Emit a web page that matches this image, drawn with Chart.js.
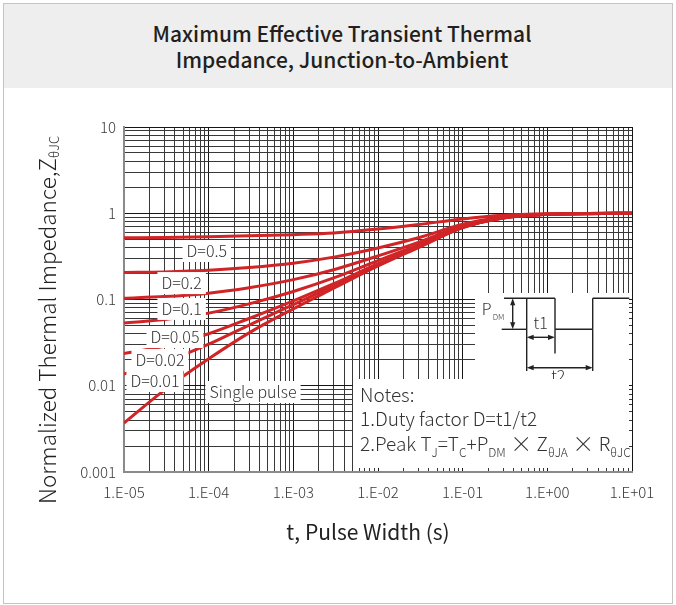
<!DOCTYPE html>
<html>
<head>
<meta charset="utf-8">
<script src="https://cdn.jsdelivr.net/npm/chart.js@4.4.1/dist/chart.umd.min.js"></script>
<style>
html,body{margin:0;padding:0;background:#fff;}
#frame{position:absolute;left:3px;top:3px;width:668px;height:599px;border:1px solid #c4c4c4;box-sizing:content-box;}
#title{position:absolute;left:0;top:0;width:668px;height:84px;background:#eeeeee;font-family:"Noto Sans CJK SC","Noto Sans",sans-serif;font-weight:500;font-size:21px;line-height:26px;color:#231f20;text-align:center;display:flex;align-items:center;justify-content:center;}
#title div{position:relative;left:4px;}
#wrap{position:absolute;left:0;top:88px;width:676px;height:517px;}
</style>
</head>
<body>
<div id="frame"><div id="title"><div>Maximum Effective Transient Thermal<br>Impedance, Junction-to-Ambient</div></div></div>
<div id="wrap"><canvas id="c"></canvas></div>
<script>
// ---- data ----
const tValues = [1e-5, 3e-5, 1e-4, 3e-4, 1e-3, 3e-3, 1e-2, 3e-2, 1e-1, 3e-1, 1, 3, 10];
const zD05    = [0.52, 0.525, 0.535, 0.547, 0.565, 0.59, 0.655, 0.74, 0.86, 0.945, 0.985, 0.995, 1.0];
const zD02    = [0.206, 0.209, 0.218, 0.235, 0.264, 0.31, 0.396, 0.52, 0.744, 0.904, 0.976, 0.992, 1.0];
const zD01    = [0.1033, 0.108, 0.1185, 0.137, 0.170, 0.2215, 0.320, 0.46, 0.712, 0.892, 0.973, 0.991, 1.0];
const zD005   = [0.0535, 0.0585, 0.0695, 0.089, 0.124, 0.178, 0.283, 0.43, 0.696, 0.886, 0.972, 0.991, 1.0];
const zD002   = [0.0236, 0.0287, 0.0401, 0.0602, 0.0964, 0.1523, 0.260, 0.412, 0.686, 0.882, 0.971, 0.990, 1.0];
const zD001   = [0.0137, 0.0188, 0.0303, 0.0506, 0.0872, 0.1437, 0.2526, 0.406, 0.683, 0.881, 0.970, 0.990, 1.0];
const zSingle = [0.0037, 0.0089, 0.0205, 0.041, 0.078, 0.135, 0.245, 0.40, 0.68, 0.88, 0.97, 0.99, 1.0];

const seriesNames = ['D=0.5', 'D=0.2', 'D=0.1', 'D=0.05', 'D=0.02', 'D=0.01', 'Single pulse'];
const seriesValues = [zD05, zD02, zD01, zD005, zD002, zD001, zSingle];
// label anchor positions (data units: t, Z)
const labelT = [9.5e-5, 4.8e-5, 4.8e-5, 4.0e-5, 2.66e-5, 2.32e-5, 3.34e-4];
const labelZ = [0.365, 0.155, 0.0777, 0.0367, 0.0199, 0.01135, 0.00846];

const xTickLabels = ['1.E-05', '1.E-04', '1.E-03', '1.E-02', '1.E-01', '1.E+00', '1.E+01'];
const yTickLabels = ['0.001', '0.01', '0.1', '1', '10'];
const xMin = 1e-5, xMax = 10, yMin = 1e-3, yMax = 10;

const FONT = '"Noto Sans CJK SC","Noto Sans",sans-serif';
Chart.defaults.font.family = FONT;

function logTicks(min, max) {
  const out = [];
  const e0 = Math.round(Math.log10(min)), e1 = Math.round(Math.log10(max));
  for (let e = e0; e <= e1; e++) {
    for (let m = 1; m <= 9; m++) {
      if (e === e1 && m > 1) break;
      out.push({ value: Number(m + 'e' + e), major: m === 1 });
    }
  }
  return out;
}
function labelFor(v, min, labels) {
  const lg = Math.log10(v), r = Math.round(lg);
  if (Math.abs(lg - r) > 1e-9) return '';
  return labels[r - Math.round(Math.log10(min))];
}

const RED = '#d02427';
const datasets = seriesNames.map((n, i) => ({
  label: n,
  data: tValues.map((t, k) => ({ x: t, y: seriesValues[i][k] })),
  borderColor: RED,
  borderWidth: 3,
  pointRadius: 0,
  fill: false,
  cubicInterpolationMode: 'monotone'
}));

// parts: [text, kind] kind 0 = normal, 1 = subscript, 2 = large symbol
function drawParts(ctx, parts, x, y, fonts, drops) {
  let cx = x;
  parts.forEach(([t, k]) => {
    ctx.font = fonts[k];
    ctx.fillText(t, cx, y + drops[k]);
    cx += ctx.measureText(t).width;
  });
  return cx;
}
function measureParts(ctx, parts, fonts) {
  let w = 0;
  parts.forEach(([t, k]) => { ctx.font = fonts[k]; w += ctx.measureText(t).width; });
  return w;
}
function arrowHead(ctx, x, y, dir) {
  const L = 7, W = 2.6;
  ctx.beginPath();
  if (dir === 'up') { ctx.moveTo(x, y); ctx.lineTo(x - W, y + L); ctx.lineTo(x + W, y + L); }
  if (dir === 'down') { ctx.moveTo(x, y); ctx.lineTo(x - W, y - L); ctx.lineTo(x + W, y - L); }
  if (dir === 'left') { ctx.moveTo(x, y); ctx.lineTo(x + L, y - W); ctx.lineTo(x + L, y + W); }
  if (dir === 'right') { ctx.moveTo(x, y); ctx.lineTo(x - L, y - W); ctx.lineTo(x - L, y + W); }
  ctx.closePath(); ctx.fill();
}

const annot = {
  id: 'annot',
  afterDatasetsDraw(chart) {
    const { ctx, chartArea: ca, scales } = chart;
    const xs = scales.x, ys = scales.y;
    ctx.save();
    // curve labels
    ctx.textAlign = 'center';
    ctx.textBaseline = 'middle';
    ctx.font = '300 16px ' + FONT;
    seriesNames.forEach((txt, i) => {
      const px = xs.getPixelForValue(labelT[i]), py = ys.getPixelForValue(labelZ[i]);
      const w = ctx.measureText(txt).width;
      ctx.fillStyle = '#fff';
      ctx.fillRect(px - w / 2 - 4, py - 11, w + 8, 22);
      ctx.fillStyle = '#333';
      ctx.fillText(txt, px, py);
    });

    const L = ca.left, T = ca.top;
    // pulse diagram box
    ctx.fillStyle = '#fff';
    ctx.fillRect(L + 351, T + 166, 154, 86);
    ctx.strokeStyle = '#222'; ctx.fillStyle = '#222'; ctx.lineWidth = 1.4;
    const P = (x, y) => [L + x - 124, T + y - 127];
    const seg = (a, b) => { ctx.beginPath(); ctx.moveTo(...P(...a)); ctx.lineTo(...P(...b)); ctx.stroke(); };
    const hi = 298.3, lo = 329.3;
    seg([504, hi], [555, hi]);
    seg([501.7, lo], [526.7, lo]);
    seg([526.7, lo], [526.7, hi]);
    seg([555, hi], [555, lo]);
    seg([555, lo], [592.7, lo]);
    seg([592.7, lo], [592.7, hi]);
    seg([592.7, hi], [629.3, hi]);
    seg([512.7, hi + 6], [512.7, lo - 6]);
    arrowHead(ctx, ...P(512.7, hi), 'up');
    arrowHead(ctx, ...P(512.7, lo), 'down');
    seg([526.7, lo], [526.7, 371]);
    seg([555, lo], [555, 353.5]);
    seg([592.7, lo], [592.7, 371]);
    seg([532, 337.3], [550, 337.3]);
    arrowHead(ctx, ...P(526.7, 337.3), 'left');
    arrowHead(ctx, ...P(555, 337.3), 'right');
    seg([532, 367.7], [587, 367.7]);
    arrowHead(ctx, ...P(526.7, 367.7), 'left');
    arrowHead(ctx, ...P(592.7, 367.7), 'right');
    ctx.fillStyle = '#333';
    ctx.textAlign = 'center'; ctx.textBaseline = 'middle';
    ctx.font = '300 16px ' + FONT;
    ctx.fillText('t1', ...P(540.7, 322.5));
    ctx.fillText('t2', ...P(558.3, 376));
    ctx.fillText('P', ...P(486.7, 309.3));
    ctx.font = '300 8px ' + FONT;
    ctx.fillText('DM', ...P(498.5, 316.5));

    // notes box
    ctx.fillStyle = '#fff';
    ctx.fillRect(L + 229, T + 252, 276, 89);
    ctx.fillStyle = '#333';
    ctx.textAlign = 'left'; ctx.textBaseline = 'middle';
    const fonts = ['300 19px ' + FONT, '300 12px ' + FONT, '300 22px ' + FONT];
    const drops = [0, 8, 0];
    ctx.font = fonts[0];
    ctx.fillText('Notes:', L + 236, T + 268);
    ctx.fillText('1.Duty factor D=t1/t2', L + 236, T + 292);
    drawParts(ctx, [['2.Peak T', 0], ['J', 1], ['=T', 0], ['C', 1], ['+P', 0], ['DM', 1],
                    ['\u2009\u00d7\u2009', 2], ['Z', 0], ['\u03b8JA', 1], ['\u2009\u00d7\u2009', 2], ['R', 0], ['\u03b8JC', 1]],
              L + 236, T + 317, fonts, drops);
    ctx.restore();
  },
  afterDraw(chart) {
    const { ctx } = chart;
    ctx.save();
    ctx.fillStyle = '#222';
    ctx.textBaseline = 'middle';
    ctx.textAlign = 'center';
    ctx.font = '400 21px ' + FONT;
    ctx.fillText('t, Pulse Width (s)', 368, 444);
    const fonts = ['300 22.5px ' + FONT, '300 13px ' + FONT];
    const drops = [0, 7];
    const parts = [['Normalized Thermal Impedance,Z', 0], ['\u03b8JC', 1]];
    ctx.textAlign = 'left';
    const w = measureParts(ctx, parts, fonts);
    ctx.translate(47, 232);
    ctx.rotate(-Math.PI / 2);
    drawParts(ctx, parts, -w / 2, 0, fonts, drops);
    ctx.restore();
  }
};

new Chart(document.getElementById('c'), {
  type: 'line',
  data: { datasets },
  options: {
    responsive: true,
    maintainAspectRatio: false,
    animation: false,
    events: [],
    layout: { padding: { left: 0, top: 39, right: 44, bottom: 0 } },
    plugins: { legend: { display: false }, tooltip: { enabled: false } },
    scales: {
      x: {
        type: 'logarithmic',
        min: xMin, max: xMax,
        afterBuildTicks: s => { s.ticks = logTicks(xMin, xMax); },
        afterFit: s => { s.height = 133; },
        grid: {
          drawTicks: false,
          color: c => (c.tick && c.tick.major) ? '#151515' : '#383838',
          lineWidth: 1
        },
        border: { display: true, color: '#8a8a8a', width: 2 },
        ticks: {
          autoSkip: false, maxRotation: 0, padding: 11,
          color: '#3a3a3a', font: { size: 15, weight: '300' },
          callback: v => labelFor(v, xMin, xTickLabels)
        }
      },
      y: {
        type: 'logarithmic',
        min: yMin, max: yMax,
        afterBuildTicks: s => { s.ticks = logTicks(yMin, yMax); },
        afterFit: s => { s.width = 124; },
        grid: {
          drawTicks: false,
          color: c => (c.tick && c.tick.major) ? '#151515' : '#383838',
          lineWidth: 1
        },
        border: { display: true, color: '#8a8a8a', width: 2 },
        ticks: {
          autoSkip: false, padding: 8,
          color: '#3a3a3a', font: { size: 15, weight: '300' },
          callback: v => labelFor(v, yMin, yTickLabels)
        }
      }
    }
  },
  plugins: [annot]
});
</script>
</body>
</html>
